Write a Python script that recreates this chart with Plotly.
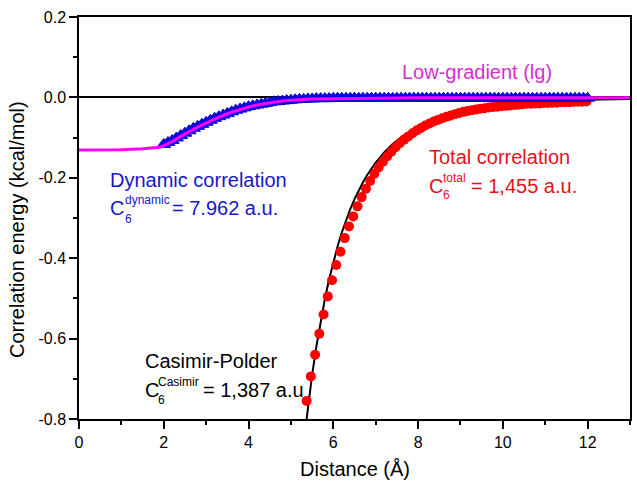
import plotly.graph_objects as go

# ---------------- data ----------------
lg_x = [0.0, 0.5, 1.0, 1.5, 1.8, 1.9, 2.0, 2.2, 2.4, 2.6, 2.8, 3.0, 3.2, 3.4, 3.6,
        3.8, 4.0, 4.2, 4.4, 4.6, 4.8, 5.0, 5.5, 6.0, 7.0, 8.0, 10.0, 13.0]
lg_y = [-0.131, -0.131, -0.130, -0.128, -0.126, -0.124, -0.120, -0.110, -0.097,
        -0.085, -0.074, -0.064, -0.054, -0.045, -0.037, -0.030, -0.024, -0.019,
        -0.015, -0.012, -0.009, -0.007, -0.004, -0.003, -0.002, -0.001, -0.001, -0.001]

dyn_x = [2.0, 2.1, 2.2, 2.3, 2.4, 2.5, 2.6, 2.7, 2.8, 2.9, 3.0, 3.1, 3.2, 3.3, 3.4,
         3.5, 3.6, 3.7, 3.8, 3.9, 4.0, 4.1, 4.2, 4.3, 4.4, 4.5, 4.6, 4.7, 4.8, 4.9,
         5.0, 5.1, 5.2, 5.3, 5.4, 5.5, 5.6, 5.7, 5.8, 5.9, 6.0, 6.1, 6.2, 6.3, 6.4,
         6.5, 6.6, 6.7, 6.8, 6.9, 7.0, 7.1, 7.2, 7.3, 7.4, 7.5, 7.6, 7.7, 7.8, 7.9,
         8.0, 8.1, 8.2, 8.3, 8.4, 8.5, 8.6, 8.7, 8.8, 8.9, 9.0, 9.1, 9.2, 9.3, 9.4,
         9.5, 9.6, 9.7, 9.8, 9.9, 10.0, 10.1, 10.2, 10.3, 10.4, 10.5, 10.6, 10.7,
         10.8, 10.9, 11.0, 11.1, 11.2, 11.3, 11.4, 11.5, 11.6, 11.7, 11.8, 11.9, 12.0]
dyn_y = [-0.117, -0.112, -0.107, -0.101, -0.095, -0.089, -0.083, -0.077, -0.072,
         -0.067, -0.062, -0.057, -0.052, -0.048, -0.044, -0.040, -0.036, -0.032,
         -0.029, -0.026, -0.023, -0.021, -0.019, -0.017, -0.015, -0.013, -0.011,
         -0.010, -0.009, -0.008, -0.007, -0.006, -0.005, -0.005, -0.004, -0.004,
         -0.003, -0.003, -0.003, -0.003, -0.002, -0.002, -0.002, -0.002, -0.002,
         -0.002, -0.002, -0.002, -0.002, -0.002, -0.002, -0.002, -0.002, -0.002,
         -0.002, -0.002, -0.002, -0.002, -0.002, -0.002, -0.002, -0.002, -0.002,
         -0.002, -0.002, -0.002, -0.002, -0.002, -0.002, -0.002, -0.002, -0.002,
         -0.002, -0.002, -0.002, -0.002, -0.002, -0.002, -0.002, -0.002, -0.002,
         -0.002, -0.002, -0.002, -0.002, -0.002, -0.002, -0.002, -0.002, -0.002,
         -0.002, -0.002, -0.002, -0.002, -0.002, -0.002, -0.002, -0.002, -0.002,
         -0.002, -0.002]

tot_x = [5.37, 5.47, 5.57, 5.67, 5.77, 5.87, 5.97, 6.07, 6.17, 6.27, 6.37, 6.47,
         6.57, 6.67, 6.77, 6.87, 6.97, 7.07, 7.17, 7.27, 7.37, 7.47, 7.57, 7.67,
         7.77, 7.87, 7.97, 8.07, 8.17, 8.27, 8.37, 8.47, 8.57, 8.67, 8.77, 8.87,
         8.97, 9.07, 9.17, 9.27, 9.37, 9.47, 9.57, 9.67, 9.77, 9.87, 9.97, 10.07,
         10.17, 10.27, 10.37, 10.47, 10.57, 10.67, 10.77, 10.87, 10.97, 11.07,
         11.17, 11.27, 11.37, 11.47, 11.57, 11.67, 11.77, 11.87, 11.97]
tot_y = [-0.755, -0.694, -0.640, -0.588, -0.540, -0.495, -0.455, -0.417, -0.384,
         -0.350, -0.321, -0.296, -0.271, -0.248, -0.227, -0.208, -0.190, -0.174,
         -0.160, -0.147, -0.135, -0.124, -0.114, -0.105, -0.097, -0.089, -0.082,
         -0.076, -0.070, -0.065, -0.060, -0.056, -0.052, -0.048, -0.045, -0.042,
         -0.039, -0.036, -0.034, -0.032, -0.030, -0.028, -0.027, -0.025, -0.024,
         -0.023, -0.022, -0.021, -0.020, -0.019, -0.018, -0.017, -0.016, -0.016,
         -0.015, -0.015, -0.014, -0.014, -0.013, -0.013, -0.012, -0.012, -0.012,
         -0.011, -0.011, -0.011, -0.010]

cas_x = [5.30, 5.35, 5.4, 5.5, 5.6, 5.7, 5.8, 5.9, 6.0, 6.1, 6.2, 6.3, 6.4, 6.5,
         6.6, 6.7, 6.8, 6.9, 7.0, 7.2, 7.4, 7.6, 7.8, 8.0, 8.5, 9.0, 9.5, 10.0,
         11.0, 12.0, 13.0]
cas_y = [-0.860, -0.815, -0.771, -0.690, -0.620, -0.557, -0.502, -0.453, -0.410,
         -0.371, -0.336, -0.306, -0.278, -0.253, -0.231, -0.211, -0.193, -0.177,
         -0.162, -0.137, -0.116, -0.099, -0.085, -0.073, -0.051, -0.036, -0.026,
         -0.019, -0.011, -0.006, -0.004]

x_ticks = [0, 2, 4, 6, 8, 10, 12]
y_ticks = [0.2, 0.0, -0.2, -0.4, -0.6, -0.8]

FONT = "Arial, Liberation Sans, sans-serif"
BLUE_T = "#1717c8"
RED_T = "#e3121c"
MAG_T = "#d230d2"

fig = go.Figure()
fig.add_trace(go.Scatter(x=cas_x, y=cas_y, mode="lines",
                         line=dict(color="black", width=2), showlegend=False))
fig.add_trace(go.Scatter(x=tot_x, y=tot_y, mode="markers",
                         marker=dict(symbol="circle", size=10, color="#ff0000"),
                         showlegend=False))
fig.add_trace(go.Scatter(x=dyn_x, y=dyn_y, mode="markers",
                         marker=dict(symbol="triangle-up", size=12, color="#0808d8",
                                     line=dict(color="#0808d8", width=1)),
                         showlegend=False))
fig.add_trace(go.Scatter(x=lg_x, y=lg_y, mode="lines",
                         line=dict(color="#ff00ff", width=3), showlegend=False))

annotations = []


def label(text, x, y, size=20, color="black"):
    annotations.append(dict(text=text, x=x, y=y, xref="x", yref="y",
                            xanchor="left", yanchor="middle", showarrow=False,
                            borderpad=0, borderwidth=0,
                            font=dict(family=FONT, size=size, color=color)))


label("Low-gradient (lg)", 7.62, 0.062, 20, MAG_T)

label("Dynamic correlation", 0.73, -0.205, 20, BLUE_T)
label("C", 0.73, -0.275, 20, BLUE_T)
label("dynamic", 1.08, -0.256, 12, BLUE_T)
label("6", 1.08, -0.302, 12, BLUE_T)
label("= 7.962 a.u.", 2.20, -0.275, 20, BLUE_T)

label("Total correlation", 8.25, -0.148, 20, RED_T)
label("C", 8.25, -0.220, 20, RED_T)
label("total", 8.58, -0.200, 12, RED_T)
label("6", 8.58, -0.244, 12, RED_T)
label("= 1,455 a.u.", 9.25, -0.220, 20, RED_T)

label("Casimir-Polder", 1.56, -0.655, 20, "black")
label("C", 1.56, -0.728, 20, "black")
label("Casimir", 1.86, -0.708, 12, "black")
label("6", 1.86, -0.752, 12, "black")
label("= 1,387 a.u", 2.93, -0.728, 20, "black")

# axis titles
annotations.append(dict(text="Distance (Å)", x=0.5, y=0, xref="paper", yref="paper",
                        xanchor="center", yanchor="middle", yshift=-50,
                        showarrow=False, font=dict(family=FONT, size=20, color="black")))
annotations.append(dict(text="Correlation energy (kcal/mol)", x=0, y=-0.33,
                        xref="paper", yref="y", xanchor="center", yanchor="middle",
                        xshift=-62, textangle=-90, showarrow=False,
                        font=dict(family=FONT, size=20, color="black")))

axis_common = dict(showline=True, linecolor="black", linewidth=1.5, mirror=True,
                   ticks="outside", ticklen=8, tickwidth=1.5, tickcolor="black",
                   showgrid=False, automargin=False,
                   tickfont=dict(family=FONT, size=16, color="black"))

fig.update_layout(
    width=637, height=485,
    margin=dict(l=79, r=7, t=17, b=66, autoexpand=False),
    paper_bgcolor="white", plot_bgcolor="white",
    xaxis=dict(range=[0, 13], tickvals=x_ticks, ticktext=[str(v) for v in x_ticks],
               zeroline=False,
               minor=dict(ticks="outside", ticklen=4, tickwidth=1.5, tickcolor="black",
                          dtick=1, tick0=0, showgrid=False),
               **axis_common),
    yaxis=dict(range=[-0.8, 0.2], tickvals=y_ticks,
               ticktext=[f"{v:.1f}" for v in y_ticks],
               zeroline=True, zerolinecolor="black", zerolinewidth=1.5,
               minor=dict(ticks="outside", ticklen=4, tickwidth=1.5, tickcolor="black",
                          dtick=0.1, tick0=0, showgrid=False),
               **axis_common),
    annotations=annotations,
    showlegend=False,
)

fig.write_html("out.html", config={"displayModeBar": False},
               post_script="document.body.style.margin='0';document.body.style.overflow='hidden';")
